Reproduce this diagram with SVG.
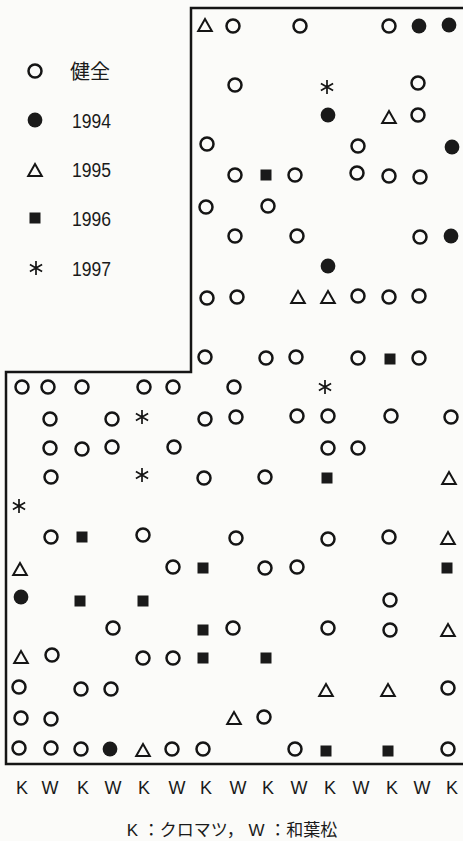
<svg xmlns="http://www.w3.org/2000/svg" xmlns:xlink="http://www.w3.org/1999/xlink" width="463" height="841" viewBox="0 0 463 841">
<style>
.o{fill:none;stroke:#151515;stroke-width:2.5}
.f{fill:#1a1a1a}
.t{fill:none;stroke:#151515;stroke-width:2;stroke-linejoin:miter}
.s{fill:#1a1a1a}
.a{stroke:#151515;stroke-width:1.7;fill:none}
.lbl{font-family:"Liberation Sans","Noto Sans CJK JP",sans-serif;fill:#1a1a1a}
.frame{fill:none;stroke:#151515;stroke-width:2.5}
</style>
<defs>
<circle id="o" class="o" r="6.5"/>
<circle id="f" class="f" r="7.4"/>
<polygon id="t" class="t" points="0,-6 6.8,6 -6.8,6"/>
<rect id="s" class="s" x="-5.5" y="-5.5" width="11" height="11"/>
<path id="a" class="a" d="M0,-7V7M-6.1,-3.5L6.1,3.5M-6.1,3.5L6.1,-3.5"/>
</defs>
<rect width="463" height="841" fill="#fbfbf9"/>
<g id="frame"><path class="frame" d="M470,8H191V372H6V764H470"/></g>
<g id="legend">
<use href="#o" x="35" y="71"/><text class="lbl" x="70" y="79" font-size="20">健全</text>
<use href="#f" x="35" y="120"/><text class="lbl" x="72" y="128" font-size="20" textLength="39" lengthAdjust="spacingAndGlyphs">1994</text>
<use href="#t" x="35" y="170"/><text class="lbl" x="72" y="177" font-size="20" textLength="39" lengthAdjust="spacingAndGlyphs">1995</text>
<use href="#s" x="35" y="218"/><text class="lbl" x="72" y="226" font-size="20" textLength="39" lengthAdjust="spacingAndGlyphs">1996</text>
<use href="#a" x="36" y="268"/><text class="lbl" x="72" y="276" font-size="20" textLength="39" lengthAdjust="spacingAndGlyphs">1997</text>
</g>
<g id="points">
<use href="#t" x="205" y="25"/><use href="#o" x="233" y="26"/><use href="#o" x="300" y="26"/><use href="#o" x="389" y="26"/><use href="#f" x="419" y="26"/><use href="#f" x="449" y="25"/>
<use href="#o" x="235" y="85"/><use href="#a" x="327" y="87"/><use href="#o" x="418" y="83"/>
<use href="#f" x="328" y="115"/><use href="#t" x="389" y="117"/><use href="#o" x="418" y="115"/>
<use href="#o" x="207" y="144"/><use href="#o" x="358" y="146"/><use href="#f" x="452" y="147"/>
<use href="#o" x="235" y="175"/><use href="#s" x="266" y="175"/><use href="#o" x="295" y="175"/><use href="#o" x="357" y="173"/><use href="#o" x="389" y="176"/><use href="#o" x="420" y="177"/>
<use href="#o" x="206" y="207"/><use href="#o" x="268" y="206"/>
<use href="#o" x="235" y="236"/><use href="#o" x="297" y="236"/><use href="#o" x="420" y="237"/><use href="#f" x="451" y="236"/>
<use href="#f" x="328" y="266"/>
<use href="#o" x="207" y="298"/><use href="#o" x="237" y="297"/><use href="#t" x="298" y="297"/><use href="#t" x="328" y="297"/><use href="#o" x="358" y="296"/><use href="#o" x="389" y="297"/><use href="#o" x="419" y="296"/>
<use href="#o" x="205" y="357"/><use href="#o" x="266" y="358"/><use href="#o" x="296" y="357"/><use href="#o" x="358" y="358"/><use href="#s" x="390" y="359"/><use href="#o" x="419" y="358"/>
<use href="#o" x="22" y="387"/><use href="#o" x="48" y="387"/><use href="#o" x="82" y="387"/><use href="#o" x="144" y="387"/><use href="#o" x="173" y="387"/><use href="#o" x="234" y="387"/><use href="#a" x="325" y="387"/>
<use href="#o" x="50" y="419"/><use href="#o" x="112" y="419"/><use href="#a" x="142" y="417"/><use href="#o" x="205" y="419"/><use href="#o" x="236" y="417"/><use href="#o" x="297" y="416"/><use href="#o" x="328" y="416"/><use href="#o" x="391" y="416"/><use href="#o" x="451" y="417"/>
<use href="#o" x="50" y="448"/><use href="#o" x="82" y="449"/><use href="#o" x="112" y="447"/><use href="#o" x="174" y="447"/><use href="#o" x="328" y="448"/><use href="#o" x="358" y="448"/>
<use href="#o" x="51" y="477"/><use href="#a" x="142" y="475"/><use href="#o" x="204" y="478"/><use href="#o" x="265" y="477"/><use href="#s" x="327" y="478"/><use href="#t" x="449" y="478"/>
<use href="#a" x="19" y="506"/>
<use href="#o" x="51" y="537"/><use href="#s" x="82" y="537"/><use href="#o" x="143" y="535"/><use href="#o" x="236" y="538"/><use href="#o" x="328" y="539"/><use href="#o" x="389" y="537"/><use href="#t" x="448" y="538"/>
<use href="#t" x="20" y="569"/><use href="#o" x="173" y="567"/><use href="#s" x="203" y="568"/><use href="#o" x="265" y="568"/><use href="#o" x="297" y="567"/><use href="#s" x="447" y="568"/>
<use href="#f" x="21" y="597"/><use href="#s" x="80" y="601"/><use href="#s" x="143" y="601"/><use href="#o" x="390" y="600"/>
<use href="#o" x="113" y="628"/><use href="#s" x="203" y="630"/><use href="#o" x="233" y="628"/><use href="#o" x="328" y="628"/><use href="#o" x="390" y="630"/><use href="#t" x="448" y="630"/>
<use href="#t" x="21" y="657"/><use href="#o" x="52" y="655"/><use href="#o" x="143" y="658"/><use href="#o" x="173" y="658"/><use href="#s" x="203" y="658"/><use href="#s" x="266" y="658"/>
<use href="#o" x="19" y="687"/><use href="#o" x="81" y="689"/><use href="#o" x="111" y="689"/><use href="#t" x="326" y="690"/><use href="#t" x="388" y="690"/><use href="#o" x="448" y="688"/>
<use href="#o" x="21" y="718"/><use href="#o" x="51" y="719"/><use href="#t" x="234" y="718"/><use href="#o" x="264" y="717"/>
<use href="#o" x="19" y="748"/><use href="#o" x="51" y="748"/><use href="#o" x="81" y="749"/><use href="#f" x="110" y="749"/><use href="#t" x="143" y="750"/><use href="#o" x="172" y="749"/><use href="#o" x="203" y="749"/><use href="#o" x="295" y="749"/><use href="#s" x="326" y="751"/><use href="#s" x="388" y="751"/><use href="#o" x="448" y="749"/>
</g>
<g id="axis" class="lbl" font-size="18" text-anchor="middle">
<text x="22" y="794">K</text><text x="50" y="794">W</text><text x="83" y="794">K</text><text x="113" y="794">W</text><text x="144" y="794">K</text><text x="177" y="794">W</text><text x="206" y="794">K</text><text x="238" y="794">W</text><text x="268" y="794">K</text><text x="299" y="794">W</text><text x="330" y="794">K</text><text x="361" y="794">W</text><text x="392" y="794">K</text><text x="422" y="794">W</text><text x="452" y="794">K</text>
</g>
<text id="caption" class="lbl" x="232" y="836" font-size="17" text-anchor="middle">K ：クロマツ，  W ：和葉松</text>
</svg>
